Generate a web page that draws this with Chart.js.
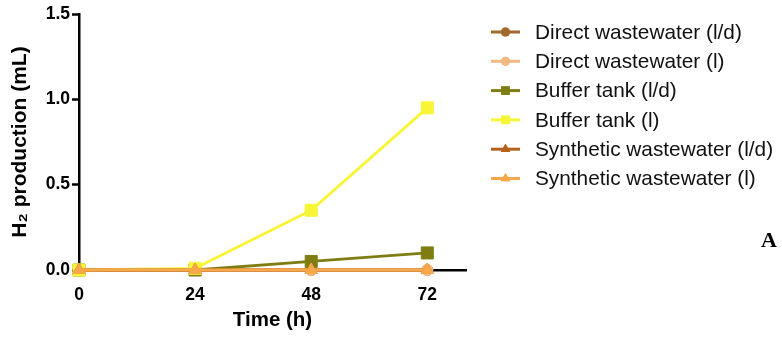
<!DOCTYPE html>
<html>
<head>
<meta charset="utf-8">
<script src="https://cdn.jsdelivr.net/npm/chart.js@4.4.1/dist/chart.umd.min.js"></script>
<style>
  html, body { margin: 0; padding: 0; background: #fff; }
  #wrap { width: 782px; height: 340px; position: relative; }
</style>
</head>
<body>
<div id="wrap"><canvas id="c" width="782" height="340"></canvas></div>
<script>
// Sampling times (h) and H2 production (mL) per condition
const hours = [0, 24, 48, 72];
const xTickValues = [0, 24, 48, 72];
const yTickValues = [0, 0.5, 1.0, 1.5];

const directLd = [0, 0, 0, 0];
const directL = [0, 0, 0, 0];
const bufferLd = [0, 0, 0.05, 0.10];
const bufferL = [0, 0.01, 0.35, 0.95];
const syntheticLd = [0, 0, 0, 0];
const syntheticL = [0, 0, 0, 0];

const seriesNames = [
  'Direct wastewater (l/d)',
  'Direct wastewater (l)',
  'Buffer tank (l/d)',
  'Buffer tank (l)',
  'Synthetic wastewater (l/d)',
  'Synthetic wastewater (l)'
];

const styles = [
  { color: '#a2692c', point: 'circle', radius: 5.5, legendRadius: 4.5 },
  { color: '#f3b985', point: 'circle', radius: 5.5, legendRadius: 4.5 },
  { color: '#7f7d12', point: 'rect', radius: 8.5, legendRadius: 6 },
  { color: '#f7f536', point: 'rect', radius: 8.5, legendRadius: 6 },
  { color: '#b5621d', point: 'triangle', radius: 7, legendRadius: 5.5 },
  { color: '#f8a84a', point: 'triangle', radius: 7, legendRadius: 5.5 }
];

const seriesValues = [directLd, directL, bufferLd, bufferL, syntheticLd, syntheticL];

const datasets = seriesValues.map((vals, i) => ({
  label: seriesNames[i],
  data: hours.map((h, k) => ({ x: h, y: vals[k] })),
  borderColor: styles[i].color,
  backgroundColor: styles[i].color,
  pointBackgroundColor: styles[i].color,
  pointBorderColor: styles[i].color,
  pointStyle: styles[i].point,
  pointRadius: styles[i].radius,
  pointBorderWidth: 1,
  borderWidth: 2.8,
  tension: 0,
  clip: false,
  order: seriesValues.length - i
}));

// Legend on the right: short line with the series marker, then its name
const sideLegend = {
  id: 'sideLegend',
  afterDraw(chart) {
    const ctx = chart.ctx;
    ctx.save();
    chart.data.datasets.forEach((ds, i) => {
      const y = 32 + i * 29.3;
      ctx.strokeStyle = ds.borderColor;
      ctx.lineWidth = 3;
      ctx.beginPath();
      ctx.moveTo(491, y);
      ctx.lineTo(520, y);
      ctx.stroke();
      ctx.fillStyle = ds.borderColor;
      Chart.helpers.drawPoint(ctx, {
        pointStyle: ds.pointStyle,
        radius: styles[i].legendRadius,
        rotation: 0,
        borderWidth: 0
      }, 505.5, y);
      ctx.fill();
      ctx.fillStyle = '#111';
      ctx.font = '20.8px "Liberation Sans", Arial, sans-serif';
      ctx.textBaseline = 'middle';
      ctx.textAlign = 'left';
      ctx.fillText(ds.label, 535, y + 1);
    });
    // panel letter
    ctx.fillStyle = '#000';
    ctx.font = 'bold 22px "Liberation Serif", "Times New Roman", serif';
    ctx.textBaseline = 'middle';
    ctx.fillText('A', 761, 241);
    ctx.restore();
  }
};

new Chart(document.getElementById('c'), {
  type: 'line',
  data: { datasets },
  options: {
    responsive: false,
    animation: false,
    layout: { padding: { top: 14, right: 316, left: 0, bottom: 0 } },
    plugins: { legend: { display: false }, tooltip: { enabled: false } },
    scales: {
      x: {
        type: 'linear',
        min: 0,
        max: 80,
        afterFit(scale) { scale.height = 70; },
        afterBuildTicks(scale) { scale.ticks = xTickValues.map(v => ({ value: v })); },
        grid: { display: true, drawOnChartArea: false, drawTicks: true, tickLength: 4, tickWidth: 2.5, color: '#000' },
        border: { display: true, color: '#000', width: 2.5 },
        ticks: {
          color: '#000',
          padding: 11,
          maxRotation: 0,
          font: { family: '"Liberation Sans", Arial, sans-serif', size: 17.5, weight: 'bold' }
        },
        title: {
          display: true,
          text: 'Time (h)',
          color: '#000',
          padding: { top: 0, bottom: 7 },
          font: { family: '"Liberation Sans", Arial, sans-serif', size: 20.5, weight: 'bold', lineHeight: 1.2 }
        }
      },
      y: {
        min: 0,
        max: 1.5,
        afterFit(scale) { scale.width = 79; },
        afterBuildTicks(scale) { scale.ticks = yTickValues.map(v => ({ value: v })); },
        grid: { display: true, drawOnChartArea: false, drawTicks: true, tickLength: 7, tickWidth: 2.5, color: '#000' },
        border: { display: true, color: '#000', width: 2.5 },
        ticks: {
          color: '#000',
          padding: 2,
          callback: v => Number(v).toFixed(1),
          font: { family: '"Liberation Sans", Arial, sans-serif', size: 17.5, weight: 'bold' }
        },
        title: {
          display: true,
          text: 'H\u2082 production (mL)',
          color: '#000',
          padding: { top: 8, bottom: 0 },
          font: { family: '"Liberation Sans", Arial, sans-serif', size: 21, weight: 'bold', lineHeight: 1.2 }
        }
      }
    }
  },
  plugins: [sideLegend]
});
</script>
</body>
</html>
